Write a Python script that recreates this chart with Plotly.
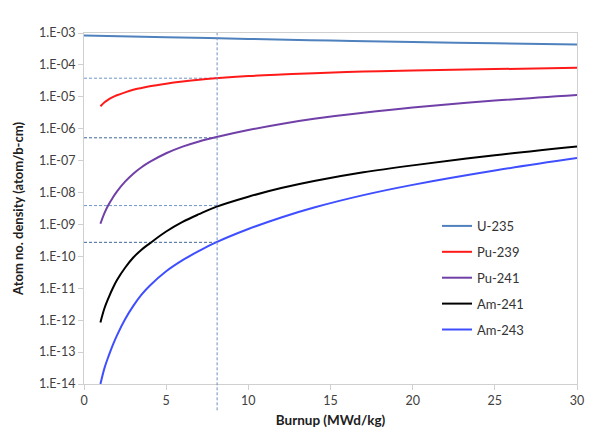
import plotly.graph_objects as go

# Data
burnup_u = [0, 5, 10, 15, 20, 25, 30]
u235 = [8.4e-4, 7.4e-4, 6.5e-4, 5.8e-4, 5.2e-4, 4.75e-4, 4.35e-4]

burnup = [1, 1.25, 1.5, 1.75, 2, 2.5, 3, 3.5, 4, 5, 6, 7, 8, 10, 12, 14, 17, 20, 25, 30]
pu239 = [5.07e-6, 6.8e-6, 8.3e-6, 9.8e-6, 1.12e-5, 1.38e-5, 1.66e-5, 1.9e-5, 2.14e-5, 2.57e-5,
         3.0e-5, 3.43e-5, 3.8e-5, 4.47e-5, 5.0e-5, 5.5e-5, 6.17e-5, 6.7e-5, 7.4e-5, 8.1e-5]
pu241 = [1.05e-9, 2.3e-9, 4.2e-9, 6.9e-9, 1.07e-8, 2.2e-8, 3.9e-8, 6.2e-8, 9.1e-8, 1.7e-7,
         2.75e-7, 4.0e-7, 5.4e-7, 9.1e-7, 1.41e-6, 2.04e-6, 3.16e-6, 4.6e-6, 7.6e-6, 1.15e-5]
am241 = [8.5e-13, 2.4e-12, 5.1e-12, 1.0e-11, 1.78e-11, 4.4e-11, 9.2e-11, 1.62e-10, 2.55e-10, 6.0e-10,
         1.2e-9, 2.1e-9, 3.5e-9, 7.4e-9, 1.38e-8, 2.3e-8, 4.3e-8, 7.1e-8, 1.48e-7, 2.8e-7]
am243 = [1e-14, 3.2e-14, 7.6e-14, 1.66e-13, 3.3e-13, 1.07e-12, 2.8e-12, 6.3e-12, 1.2e-11, 3.4e-11,
         7.6e-11, 1.48e-10, 2.7e-10, 7.2e-10, 1.66e-9, 3.4e-9, 8.3e-9, 1.74e-8, 4.9e-8, 1.2e-7]

marker_burnup = 8.1
marker_levels = [3.83e-5, 5.2e-7, 3.9e-9, 2.75e-10]
marker_colors = ["#6f96c8", "#41679a", "#6f96c8", "#41679a"]

ytick_exp = list(range(-14, -2))
ytick_vals = [10.0 ** e for e in ytick_exp]
ytick_text = ["1.E-%02d" % (-e) for e in ytick_exp]
xtick_vals = [0, 5, 10, 15, 20, 25, 30]

series = [
    ("U-235", burnup_u, u235, "#4f81bd"),
    ("Pu-239", burnup, pu239, "#ff1a1a"),
    ("Pu-241", burnup, pu241, "#7040a8"),
    ("Am-241", burnup, am241, "#000000"),
    ("Am-243", burnup, am243, "#3f4fff"),
]

fig = go.Figure()

# Dashed reference lines (drawn first, underneath curves)
for lvl, col in zip(marker_levels, marker_colors):
    fig.add_trace(go.Scatter(x=[0, marker_burnup], y=[lvl, lvl], mode="lines",
                             line=dict(color=col, width=1, dash="3px,2px"),
                             showlegend=False, hoverinfo="skip"))

for name, xs, ys, col in series:
    fig.add_trace(go.Scatter(x=xs, y=ys, mode="lines", name=name,
                             line=dict(color=col, width=2, shape="spline", smoothing=1.0),
                             legendgroup=name))

fig.add_shape(type="line", xref="x", yref="paper", x0=marker_burnup, x1=marker_burnup,
              y0=-0.075, y1=1, line=dict(color="#6f90c0", width=1, dash="3px,2px"))

font_family = "Lato, 'Open Sans', sans-serif"

fig.update_layout(
    width=592, height=436,
    margin=dict(l=84, r=8, t=33, b=52),
    paper_bgcolor="white", plot_bgcolor="white",
    font=dict(family=font_family, size=12, color="#404040"),
    legend=dict(x=0.716, y=0.493, xanchor="left", yanchor="top",
                bgcolor="rgba(0,0,0,0)", tracegroupgap=6,
                font=dict(size=13, color="#333333"), itemwidth=30),
    showlegend=True,
)

fig.update_xaxes(range=[0, 30], tickvals=xtick_vals, ticks="outside", ticklen=5,
                 tickcolor="#d0d0d0", showline=True, linecolor="#d0d0d0", linewidth=1,
                 mirror=True, showgrid=False, zeroline=False,
                 tickfont=dict(size=12.5, color="#404040"),
                 title=dict(text="<b>Burnup (MWd/kg)</b>", font=dict(size=13.5, color="#202020"),
                            standoff=8))
fig.update_yaxes(type="log", range=[-14, -3], tickvals=ytick_vals, ticktext=ytick_text,
                 ticks="outside", ticklen=5, tickcolor="#d0d0d0", showline=True,
                 linecolor="#d0d0d0", linewidth=1, mirror=True, showgrid=False,
                 zeroline=False, tickfont=dict(size=12.5, color="#404040"),
                 title=dict(text="<b>Atom no. density (atom/b-cm)</b>",
                            font=dict(size=13, color="#202020"), standoff=12))

fig.write_html("out.html")
